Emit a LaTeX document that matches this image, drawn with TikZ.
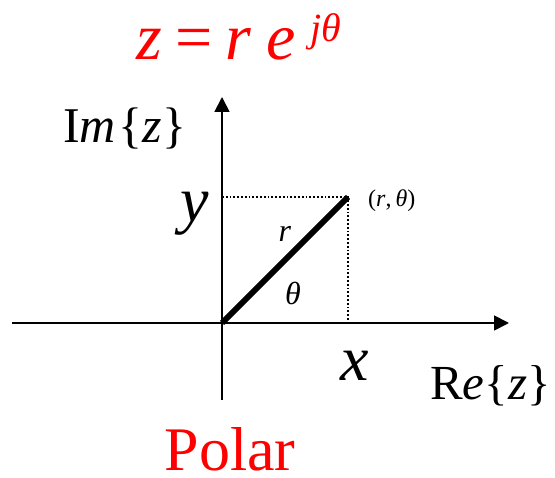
\documentclass[tikz,border=0pt]{standalone}
\usepackage{fontspec}
\setmainfont{Liberation Serif}
\usetikzlibrary{arrows.meta}
\begin{document}
\begin{tikzpicture}[x=1pt,y=-1pt,
  axis/.style={line width=1.8pt,-{Triangle[length=15pt,width=15pt]}},
  guide/.style={line width=1.8pt,dotted},
  vec/.style={line width=6pt},
  lbl/.style={inner sep=0pt,anchor=base},
  red/.style={text=red}]
\useasboundingbox (0,0) rectangle (555,478);
\coordinate (O) at (222,323);
\coordinate (P) at (348,197);
\coordinate (Py) at (222,197);
\coordinate (Px) at (348,323);
\coordinate (xl) at (12,323);
\coordinate (xr) at (509,323);
\coordinate (yb) at (222,400);
\coordinate (yt) at (222,97);
\draw[axis] (xl) -- (xr);
\draw[axis] (yb) -- (yt);
\draw[guide] (Py) -- (P) -- (Px);
\draw[vec] (O) -- (P);
\node[lbl,anchor=base west,font=\fontsize{50}{50}\selectfont] (im) at (63,143) {I\textit{m}\hspace{3pt}\{\textit{z}\}};
\node[lbl,anchor=base west,font=\fontsize{49}{49}\selectfont] (re) at (430,400) {R\textit{e}\{\textit{z}\}};
\node[lbl,font=\fontsize{64}{64}\selectfont] (yl) at (195,222) {\textit{y}};
\node[lbl,font=\fontsize{64}{64}\selectfont] (xlab) at (355,381) {\textit{x}};
\node[lbl,anchor=base west,font=\fontsize{24}{24}\selectfont] (pt) at (368,207) {(\textit{r},\,\textit{θ})};
\node[lbl,font=\fontsize{32}{32}\selectfont] (rl) at (285,242) {\textit{r}};
\node[lbl,font=\fontsize{32}{32}\selectfont] (tl) at (293,305) {\textit{θ}};
\node[lbl,red,font=\fontsize{62}{62}\selectfont] (pol) at (230,471) {Polar};
\node[lbl,red,anchor=base west,font=\fontsize{66}{66}\selectfont] (eq) at (136,60) {\textit{z}\hspace{14pt}=\hspace{12pt}\textit{r}\hspace{16pt}\textit{e}\hspace{14pt}\raisebox{18pt}{\fontsize{40}{40}\selectfont\textit{jθ}}};
\end{tikzpicture}
\end{document}
